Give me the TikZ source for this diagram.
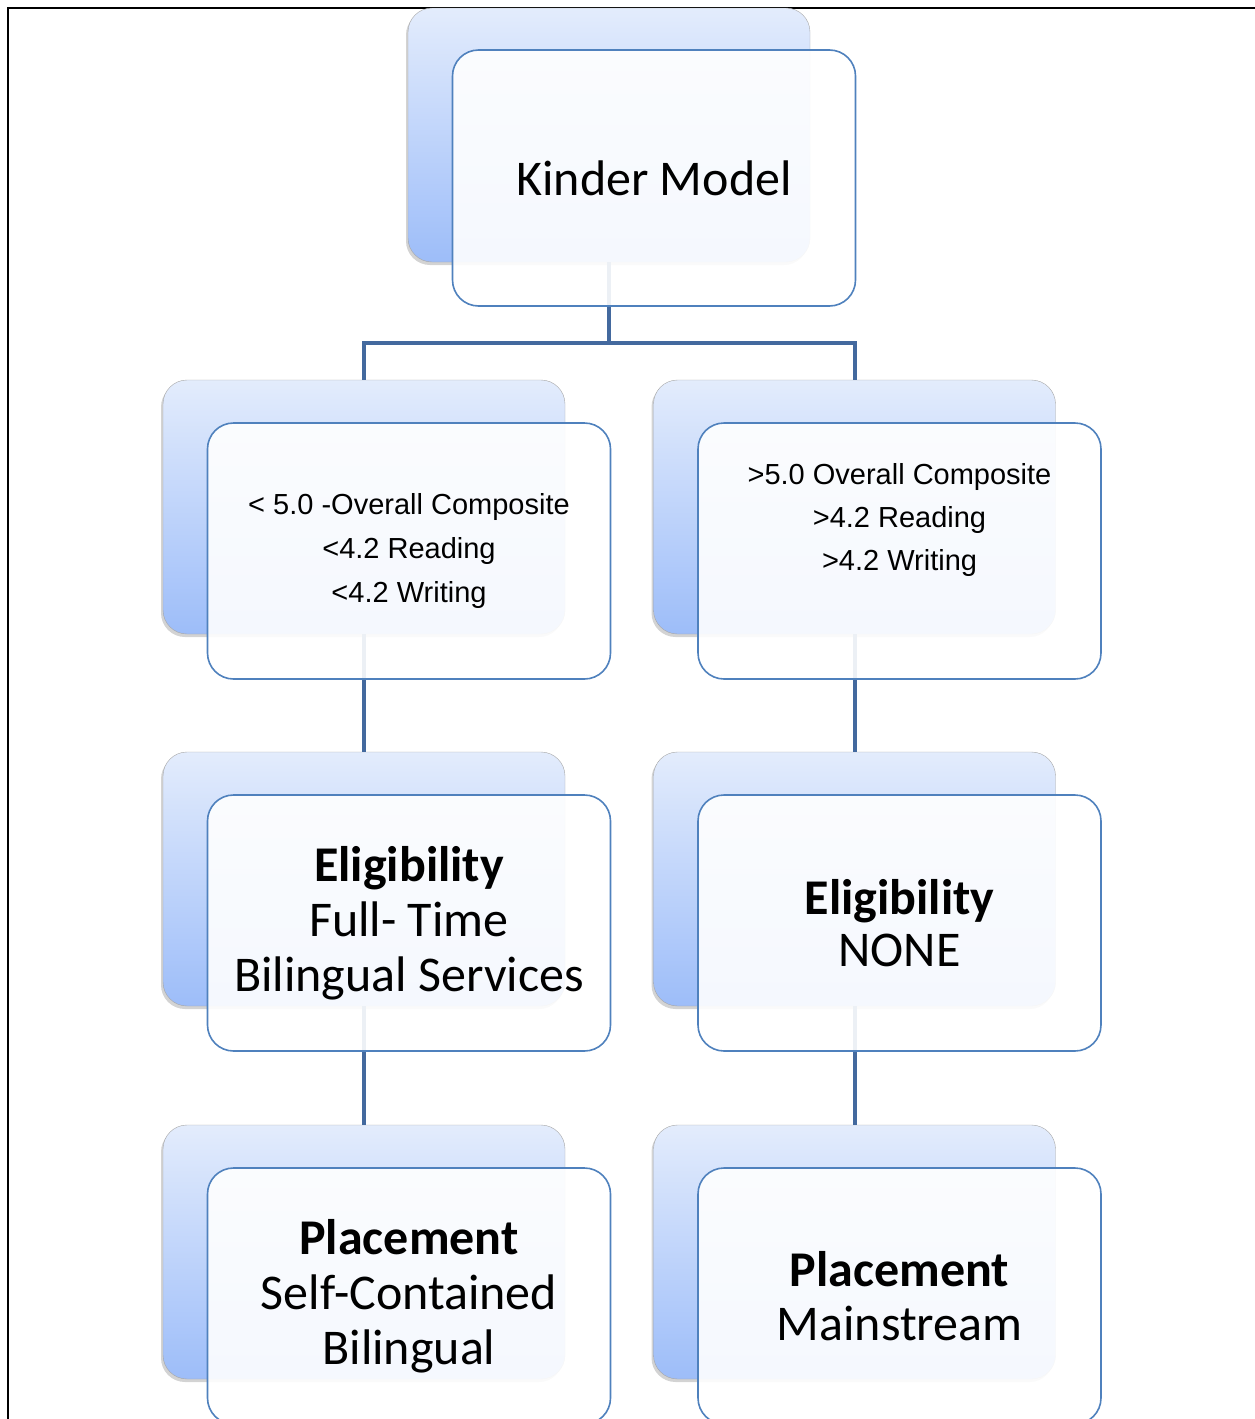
\documentclass[tikz,border=0pt]{standalone}
\usepackage{fontspec}
\setmainfont{Carlito}
\newfontfamily\arialfont{Liberation Sans}
\usepackage{tikz}
\usetikzlibrary{shadows}

\definecolor{backtop}{HTML}{E3ECFC}
\definecolor{backbot}{HTML}{9DBDF9}
\definecolor{frontline}{HTML}{4F81BD}
\definecolor{connline}{HTML}{43699E}

\tikzset{
  backbox/.style={rectangle,rounded corners=24pt,draw=gray!70,thin,
    top color=backtop,bottom color=backbot,
    minimum width=402pt,minimum height=254pt,inner sep=0pt,
    drop shadow={shadow xshift=-2pt,shadow yshift=-3pt,opacity=0.35}},
  frontbox/.style={rectangle,rounded corners=26pt,draw=frontline,line width=1.6pt,
    fill=white,fill opacity=0.9,text opacity=1,
    minimum width=403pt,minimum height=256pt,inner sep=0pt,align=center},
  bigtext/.style={font=\fontsize{50}{55}\selectfont},
  smalltext/.style={font=\arialfont\fontsize{29}{44}\selectfont},
  conn/.style={draw=connline,line width=4pt}
}

\begin{document}
\begin{tikzpicture}[x=1pt,y=-1pt,semithick]
    \useasboundingbox (0,0) rectangle (1255,1419);
    \draw[line width=2pt] (8,1419) -- (8,8) -- (1255,8);

    % back boxes
    \node[backbox] (k0b) at (609,135) {};
    \node[backbox] (l1b) at (364,507) {};
    \node[backbox] (r1b) at (854.5,507) {};
    \node[backbox] (l2b) at (364,879) {};
    \node[backbox] (r2b) at (854.5,879) {};
    \node[backbox] (l3b) at (364,1252) {};
    \node[backbox] (r3b) at (854.5,1252) {};

    % connectors
    \coordinate (bar) at (609,343);
    \draw[conn] (k0b.south) -- (bar) -| (l1b.north);
    \draw[conn] (bar) -| (r1b.north);
    \path[conn]
      (l1b.south) edge (l2b.north)
      (l2b.south) edge (l3b.north)
      (r1b.south) edge (r2b.north)
      (r2b.south) edge (r3b.north)
    ;

    % front boxes
    \node[frontbox,bigtext] (k0) at ([shift={(45pt,-43pt)}]k0b.center) {Kinder Model};
    \node[frontbox,smalltext] (l1) at ([shift={(45pt,-44pt)}]l1b.center)
      {< 5.0 -Overall Composite\\<4.2 Reading\\<4.2 Writing};
    \node[frontbox] (r1) at ([shift={(45pt,-44pt)}]r1b.center) {};
    \node[smalltext,align=center] (r1t) at ([yshift=31pt]r1.center)
      {>5.0 Overall Composite\\[-1pt]>4.2 Reading\\[-1pt]>4.2 Writing};
    \node[frontbox,bigtext] (l2) at ([shift={(45pt,-44pt)}]l2b.center)
      {\textbf{Eligibility}\\Full- Time\\Bilingual Services};
    \node[frontbox,bigtext] (r2) at ([shift={(45pt,-44pt)}]r2b.center)
      {\textbf{Eligibility}\\[-3pt]NONE};
    \node[frontbox,bigtext] (l3) at ([shift={(45pt,-44pt)}]l3b.center)
      {\textbf{Placement}\\Self-Contained\\Bilingual};
    \node[frontbox,bigtext] (r3) at ([shift={(45pt,-44pt)}]r3b.center)
      {\textbf{Placement}\\[-1pt]Mainstream};
  \end{tikzpicture}
\end{document}
